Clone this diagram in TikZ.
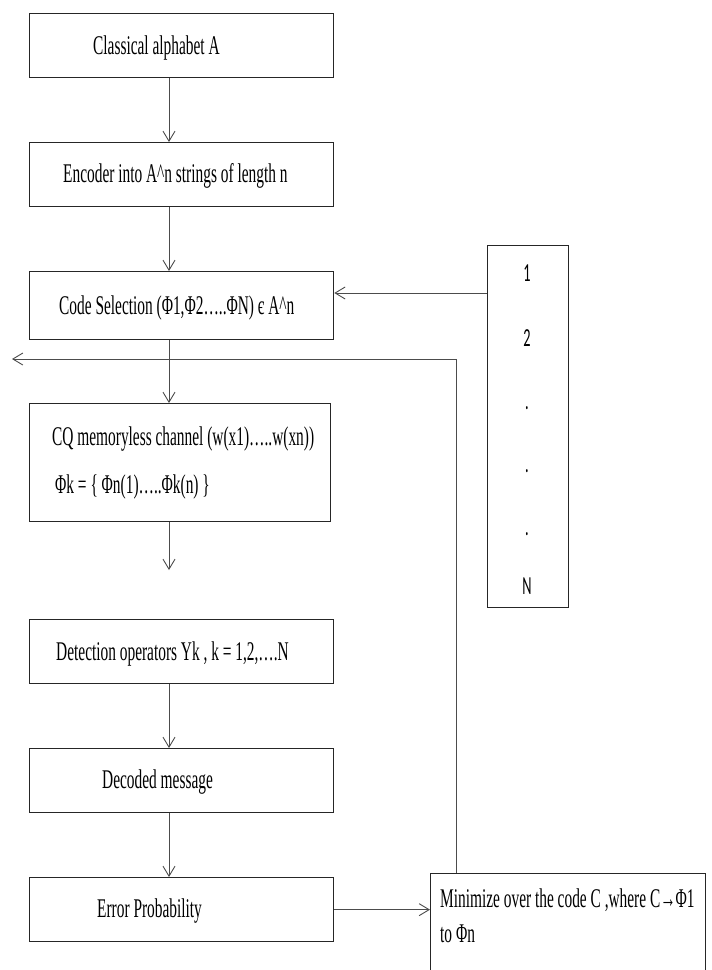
\documentclass[tikz,border=0pt]{standalone}
\usepackage{fontspec}
\setmainfont[FakeStretch=0.57]{Liberation Serif}
\newfontfamily\numfont[FakeStretch=0.55]{Carlito}
\usetikzlibrary{arrows.meta}
\begin{document}
\begin{tikzpicture}[x=1pt,y=-1pt,
  box/.style={draw=black!85, line width=1.3pt, inner sep=0pt, anchor=north west},
  lbl/.style={anchor=base west, inner sep=0pt, font=\fontsize{27}{30}\selectfont},
  num/.style={anchor=base, inner sep=0pt, font=\numfont\fontsize{26}{28}\selectfont},
  conn/.style={draw=black!70, line width=0.9pt, -{Straight Barb[length=10pt,width=12pt]}}
]
\clip (0,0) rectangle (712,970);
\fill[white] (0,0) rectangle (712,970);
% boxes
\node[box, minimum width=304pt, minimum height=64pt] (b1) at (29,13) {};
\node[box, minimum width=304pt, minimum height=64pt] (b2) at (29,142) {};
\node[box, minimum width=304pt, minimum height=68pt] (b3) at (29,271) {};
\node[box, minimum width=301pt, minimum height=118pt] (b4) at (29,403) {};
\node[box, minimum width=304pt, minimum height=64pt] (b5) at (29,619) {};
\node[box, minimum width=304pt, minimum height=64pt] (b6) at (29,748) {};
\node[box, minimum width=304pt, minimum height=64pt] (b7) at (29,877) {};
\node[box, minimum width=81pt, minimum height=362pt] (rb) at (487,245) {};
\node[box, minimum width=275pt, minimum height=130pt] (mb) at (430,873) {};
% texts
\node[lbl] (t1) at (93,54) {Classical alphabet A};
\node[lbl] (t2) at (63,182) {Encoder into A\textasciicircum n strings of length n};
\node[lbl] (t3) at (59,314) {Code Selection (Φ1,Φ2…..ΦN) є A\textasciicircum n};
\node[lbl] (t4a) at (52,445) {CQ memoryless channel (w(x1)…..w(xn))};
\node[lbl] (t4b) at (55,493) {Φk = \{ Φn(1)…..Φk(n) \}};
\node[lbl] (t5) at (56,660) {Detection operators Yk , k = 1,2,….N};
\node[lbl] (t6) at (102,788) {Decoded message};
\node[lbl] (t7) at (97,917) {Error Probability};
\node[lbl] (t8a) at (440,907) {Minimize over the code C ,where C→Φ1};
\node[lbl] (t8b) at (440,942) {to Φn};
\node[num] (n1) at (527,281) {1};
\node[num] (n2) at (527,346) {2};
\node[num] (n3) at (527,409) {.};
\node[num] (n4) at (527,472) {.};
\node[num] (n5) at (527,535) {.};
\node[num] (n6) at (527,594) {N};
% connectors
\coordinate (ax) at (169,0);
\coordinate (e4) at (169,570);
\coordinate (r3) at (487,293);
\coordinate (fb) at (456,359);
\coordinate (fe) at (12,359);
\draw[conn] (b1.south -| ax) -- (b2.north -| ax);
\draw[conn] (b2.south -| ax) -- (b3.north -| ax);
\draw[conn] (b3.south -| ax) -- (b4.north -| ax);
\draw[conn] (b4.south -| ax) -- (e4);
\draw[conn] (b5.south -| ax) -- (b6.north -| ax);
\draw[conn] (b6.south -| ax) -- (b7.north -| ax);
\draw[conn] (b7.east) -- (b7.east -| mb.west);
\draw[conn] (r3) -- (r3 -| b3.east);
\draw[conn] (mb.north -| fb) -- (fb) -- (fe);
\end{tikzpicture}
\end{document}
